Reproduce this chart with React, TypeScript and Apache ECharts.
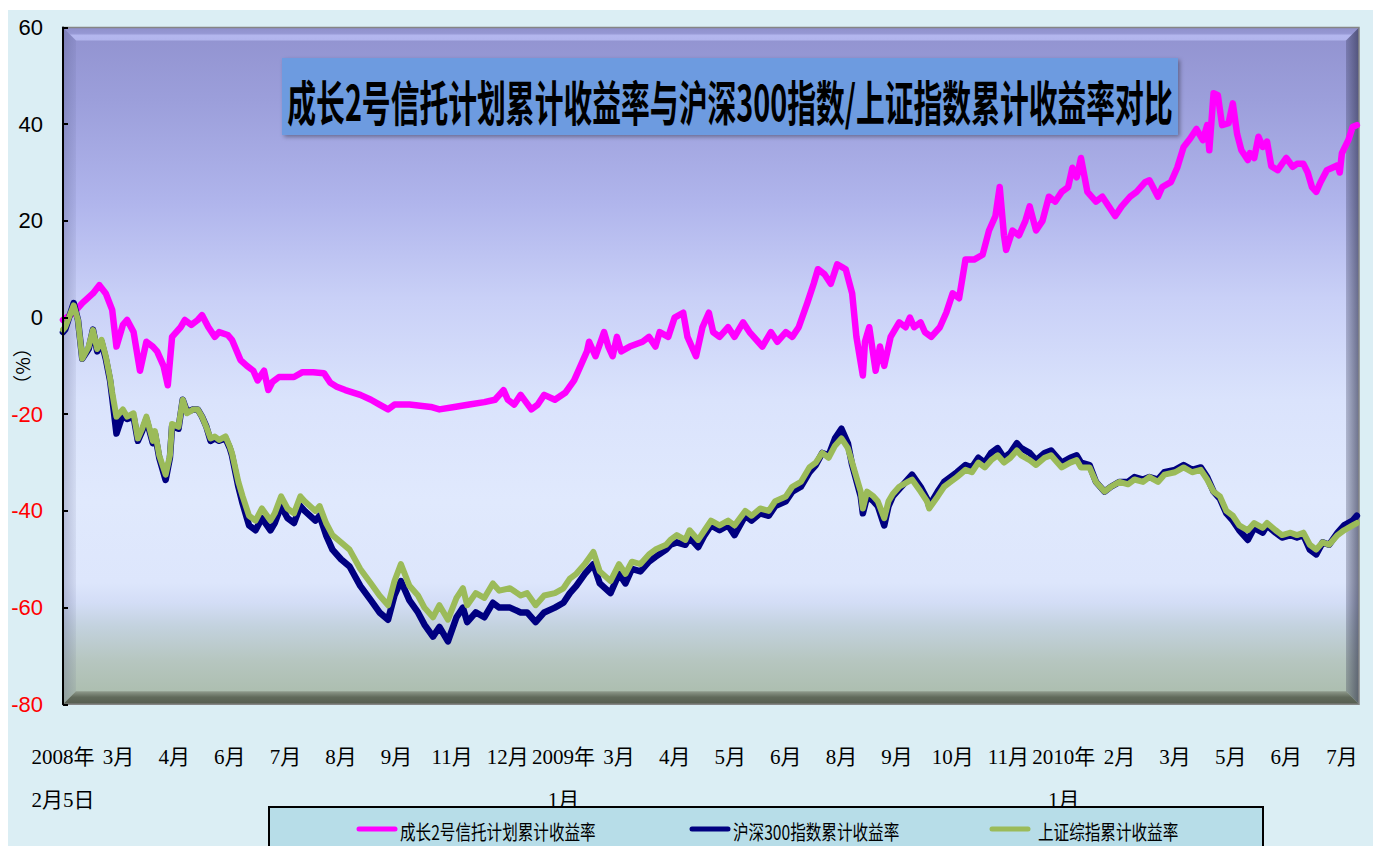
import React, { useEffect, useRef } from 'react';
import * as echarts from 'echarts';

// X axis: trading-day index since 2008-02-05; one label every 26 trading days
const tickLabels = ['2008年\n2月5日', '3月', '4月', '6月', '7月', '8月', '9月', '11月', '12月', '2009年\n1月', '3月', '4月', '5月', '6月', '8月', '9月', '10月', '11月', '2010年\n1月', '2月', '3月', '5月', '6月', '7月'];
const dayStep = 26;
const lastDay = 606;

const seriesNames = ['成长2号信托计划累计收益率', '沪深300指数累计收益率', '上证综指累计收益率'];
const seriesColors = ['#ff00ff', '#000080', '#9bbb59'];

// 成长2号信托计划累计收益率 (%)
const pinkDays = [
  0, 5, 9, 14, 17, 20, 23, 25, 28, 30,
  33, 36, 39, 42, 44, 47, 49, 51, 55, 57,
  60, 63, 65, 68, 71, 73, 77, 79, 83, 86,
  89, 91, 94, 96, 98, 101, 108, 112, 117, 122,
  125, 128, 132, 139, 144, 148, 152, 155, 162, 172,
  176, 183, 190, 197, 202, 206, 208, 211, 214, 219,
  222, 225, 230, 235, 239, 242, 245, 246, 249, 253,
  255, 257, 259, 261, 265, 271, 274, 277, 279, 283,
  286, 290, 292, 296, 299, 302, 304, 307, 311, 314,
  318, 321, 325, 327, 331, 334, 338, 341, 344, 348,
  351, 353, 356, 359, 362, 366, 369, 371, 374, 375,
  377, 380, 382, 384, 387, 391, 394, 396, 398, 401,
  403, 406, 410, 413, 416, 419, 422, 426, 430, 433,
  436, 438, 440, 441, 444, 447, 450, 452, 455, 458,
  461, 464, 467, 470, 472, 474, 476, 479, 483, 486,
  489, 492, 495, 499, 502, 506, 508, 512, 514, 518,
  521, 524, 527, 530, 533, 535, 536, 538, 540, 542,
  545, 547, 549, 551, 554, 555, 557, 559, 561, 563,
  565, 568, 570, 572, 575, 577, 580, 582, 584, 586,
  588, 591, 593, 596, 597, 598, 601, 603, 605
];
const pinkValues = [
  -0.5, 1, 3, 5, 6.7, 5, 1.6, -6, -1.5, -0.5,
  -3, -11, -5, -6, -7, -10, -14, -4, -2, -0.5,
  -1.5, -0.5, 0.5, -2, -4, -3, -3.6, -4.6, -8.8, -10,
  -11, -13, -11, -15, -13.3, -12.3, -12.3, -11.3, -11.3, -11.5,
  -13.5, -14.3, -15, -16, -17, -18, -19, -18, -18, -18.5,
  -19, -18.5, -18, -17.5, -17, -15, -17, -18, -16, -19,
  -18, -16, -17, -15.5, -13, -10, -7, -5, -8, -3,
  -6, -8, -4, -7, -6, -5, -4, -6, -3, -4,
  0, 1, -4, -8, -2, 1, -3, -4, -2, -4,
  -1, -3, -5, -6, -3, -5, -3, -4, -2, 3,
  7, 10, 9, 7, 11, 10, 5, -4, -12, -5,
  -2, -11, -6, -10, -4, -1, -2, 0, -2, -1,
  -3, -4, -2, 1, 5, 4, 12, 12, 13, 18,
  21, 27, 17, 14, 18, 17, 20, 23, 18, 20,
  25, 24, 26, 27, 31, 29, 33, 26, 24, 25,
  23, 21, 23, 25, 26, 28, 28.4, 25, 27, 28,
  31, 35.3, 37, 39, 36.7, 39.8, 34.6, 46.4, 46, 39.8,
  40.2, 44.3, 38, 34.6, 32.6, 34, 33, 37.4, 35.3, 36.4,
  31.3, 30.5, 31.8, 33, 31.2, 31.8, 31.8, 30, 27, 26,
  28, 30.5, 30.9, 31.5, 30, 34, 36.7, 39.4, 39.8
];

// index sample days (shared by the two index series)
const indexDays = [
  0, 1, 5, 7, 9, 12, 14, 16, 18, 20,
  22, 23, 25, 28, 30, 33, 35, 37, 39, 42,
  43, 45, 48, 50, 51, 54, 56, 58, 61, 63,
  65, 67, 69, 71, 73, 76, 78, 79, 82, 84,
  87, 90, 93, 97, 99, 102, 105, 108, 111, 113,
  118, 120, 123, 126, 130, 134, 139, 144, 148, 152,
  155, 158, 162, 166, 169, 173, 176, 180, 184, 187,
  189, 193, 197, 201, 204, 209, 214, 217, 221, 225,
  230, 234, 237, 240, 244, 248, 251, 256, 260, 263,
  266, 270, 274, 277, 282, 284, 287, 291, 293, 297,
  300, 303, 307, 311, 314, 319, 322, 326, 330, 333,
  338, 341, 345, 349, 352, 355, 358, 361, 364, 367,
  369, 373, 374, 376, 379, 381, 384, 386, 388, 391,
  395, 397, 401, 404, 405, 409, 412, 415, 418, 422,
  425, 428, 431, 434, 437, 440, 443, 446, 448, 452,
  455, 459, 462, 464, 467, 471, 474, 476, 480, 483,
  487, 490, 494, 498, 501, 505, 508, 512, 515, 520,
  524, 528, 532, 535, 538, 541, 544, 547, 550, 554,
  557, 561, 563, 567, 570, 574, 577, 580, 583, 586,
  589, 592, 596, 599, 603, 605
];

// 沪深300指数累计收益率 (%)
const hs300Values = [
  -3, -2.5, 3, -0.5, -8.5, -6.5, -2.5, -7, -5, -8.5,
  -13, -16.5, -24, -20, -21, -20.5, -25.5, -23.5, -21, -26,
  -24, -29, -33.6, -29, -22.5, -23, -17, -19.5, -19, -19,
  -20.5, -22.5, -25.5, -25, -25.5, -25, -27, -28.5, -35, -38.5,
  -43, -44, -41.5, -44, -42.5, -39, -41.5, -42.5, -39, -40,
  -42, -41, -45, -48, -50, -51.5, -55.5, -58.5, -61, -62.5,
  -57.5, -54.5, -58.5, -61, -63.5, -66, -64, -67, -62, -60,
  -63, -61, -62, -59, -60, -60, -61, -61, -63, -61,
  -60, -59, -57, -55.5, -53, -51, -55, -57, -53, -55,
  -52, -52.5, -50.5, -49.5, -48, -47, -46.5, -47, -45.5, -47.5,
  -45, -43, -44, -43, -45, -41, -42, -40.5, -41, -39,
  -38, -36, -35, -32, -30.5, -28, -28.5, -25, -23, -26,
  -30.5, -37, -40.5, -37, -38, -39, -43, -39, -37, -35.5,
  -33.5, -32.5, -35, -37.5, -39, -36, -34, -33, -32, -30.5,
  -31, -29, -30, -28, -27, -29, -28, -26, -27, -28,
  -29.5, -28, -27.5, -28.5, -30, -29, -28.5, -30, -30.5, -34,
  -36, -35, -34, -34, -33, -33.5, -33, -33.5, -32, -31.5,
  -30.5, -31.5, -31, -33, -36, -37.5, -40.5, -42, -44, -46,
  -43.5, -44.5, -43, -44.5, -45.5, -45, -45.5, -45, -48, -49,
  -46.5, -47, -44.5, -43, -42, -41
];

// 上证综指累计收益率 (%)
const szValues = [
  -2.5, -2, 2.5, -0.5, -8.5, -6, -2.6, -6.5, -4.6, -8,
  -12.5, -15.5, -20.5, -19, -20.5, -19.8, -25, -23, -20.5, -25.5,
  -23.5, -28.5, -32.5, -28.5, -22, -22.6, -17, -19.8, -19, -19,
  -20.5, -22.6, -25, -24.6, -25.3, -24.6, -26.7, -28, -34, -37,
  -41, -42, -39.5, -42, -40.5, -37, -39.5, -40.5, -37, -38,
  -40, -39, -42.5, -45, -46.5, -48, -52, -55, -57.5, -59.5,
  -54.5, -51, -55.5, -57.5, -60, -62, -59.5, -62.5, -58, -56,
  -59.5, -57, -58, -55, -56.5, -56, -57.5, -57, -59.5, -57.5,
  -57, -56, -54, -53, -51, -48.5, -52.5, -54.5, -51, -53,
  -50.5, -51, -49, -48, -47, -46, -45, -46, -44, -46,
  -44, -42, -43, -42, -43, -40, -41, -39.5, -40, -38,
  -37, -35, -34, -31, -30, -28, -29, -26.5, -25, -27,
  -30, -36, -39.5, -36, -37, -38, -41.5, -38, -36.5, -35,
  -34, -33.5, -36, -38, -39.5, -37, -35, -34, -33, -31.5,
  -32, -30, -31, -29.5, -28.5, -30, -29, -27.5, -28.5, -29.5,
  -30.5, -29, -28.5, -29.5, -31, -30, -29.5, -31, -31, -34,
  -36, -35, -34, -34.5, -33.5, -34, -33, -34, -32.5, -32,
  -31, -32, -31.5, -33.5, -36, -37, -40, -41, -43, -44,
  -42.5, -43.5, -42.5, -44, -45, -44.5, -45, -44.5, -47, -48,
  -46.5, -47, -45, -44, -43, -42.5
];

const yTicks = { min: -80, max: 60, interval: 20 };

function pairs(days: number[], vals: number[]) {
  const n = Math.min(days.length, vals.length);
  const out: number[][] = [];
  for (let i = 0; i < n; i++) out.push([days[i], vals[i]]);
  return out;
}

// layout (chart-local pixels)
const G = { left: 55, top: 17.5, right: 14, bottom: 141.7 };
const CW = 1365;
const CH = 836;

export default function App() {
  const ref = useRef<HTMLDivElement>(null);
  useEffect(() => {
    const chart = echarts.init(ref.current as HTMLDivElement, null, { renderer: 'svg' });
    const x0 = G.left;
    const y0 = G.top;
    const W = CW - G.left - G.right;
    const H = CH - G.top - G.bottom;
    const b = 13;
    const LG = echarts.graphic.LinearGradient;

    const cjk = "'Noto Sans CJK SC', sans-serif";
    const legendY = 821;
    const legendItems = [
      { x: 351, tx: 392 },
      { x: 684, tx: 725 },
      { x: 984, tx: 1030 }
    ];

    const graphics: any[] = [
      {
        type: 'rect', z: 0, silent: true,
        shape: { x: x0, y: y0, width: W, height: H },
        style: {
          fill: new LG(0, 0, 0, 1, [
            { offset: 0, color: '#9192cf' },
            { offset: 0.11, color: '#9c9fdb' },
            { offset: 0.26, color: '#b0b5ec' },
            { offset: 0.4, color: '#c9d0f7' },
            { offset: 0.55, color: '#dae3fc' },
            { offset: 0.7, color: '#e0e9fd' },
            { offset: 0.82, color: '#dde6fc' },
            { offset: 0.85, color: '#d3ddf6' },
            { offset: 0.885, color: '#c3d2de' },
            { offset: 0.935, color: '#b6c6c0' },
            { offset: 1, color: '#a9bba9' }
          ])
        }
      },
      {
        type: 'polygon', z: 1, silent: true,
        shape: { points: [[x0, y0], [x0 + W, y0], [x0 + W - b, y0 + b], [x0 + b, y0 + b]] },
        style: {
          fill: new LG(0, 0, 0, 1, [
            { offset: 0, color: '#8f90cb' },
            { offset: 0.45, color: '#9597d3' },
            { offset: 0.62, color: '#b4b7ef' },
            { offset: 1, color: '#b1b4ec' }
          ])
        }
      },
      {
        type: 'polygon', z: 1, silent: true,
        shape: { points: [[x0, y0], [x0 + b, y0 + b], [x0 + b, y0 + H - b], [x0, y0 + H]] },
        style: {
          fill: new LG(0, 0, 1, 0, [
            { offset: 0, color: 'rgba(70,75,120,0.28)' },
            { offset: 1, color: 'rgba(70,75,120,0.08)' }
          ])
        }
      },
      {
        type: 'polygon', z: 1, silent: true,
        shape: { points: [[x0 + W, y0], [x0 + W, y0 + H], [x0 + W - b, y0 + H - b], [x0 + W - b, y0 + b]] },
        style: {
          fill: new LG(0, 0, 1, 0, [
            { offset: 0, color: 'rgba(40,42,70,0.25)' },
            { offset: 1, color: 'rgba(40,42,70,0.62)' }
          ])
        }
      },
      {
        type: 'polygon', z: 1, silent: true,
        shape: { points: [[x0, y0 + H], [x0 + W, y0 + H], [x0 + W - b, y0 + H - b], [x0 + b, y0 + H - b]] },
        style: {
          fill: new LG(0, 0, 0, 1, [
            { offset: 0, color: '#8f9a8c' },
            { offset: 0.45, color: '#616a5b' },
            { offset: 1, color: '#555c4f' }
          ])
        }
      },
      {
        type: 'rect', z: 1, silent: true,
        shape: { x: x0, y: y0, width: W, height: H },
        style: { fill: 'none', stroke: '#858585', lineWidth: 1.5 }
      },
      // title box
      {
        type: 'rect', z: 10, silent: true,
        shape: { x: 274, y: 48, width: 896, height: 77 },
        style: {
          fill: '#6d9be0',
          shadowBlur: 4, shadowOffsetX: 2, shadowOffsetY: 2, shadowColor: 'rgba(0,0,0,0.35)'
        }
      },
      {
        type: 'text', z: 11, silent: true,
        x: 722, y: 90, scaleX: 0.6,
        style: {
          x: 0, y: 0,
          text: '成长2号信托计划累计收益率与沪深300指数/上证指数累计收益率对比',
          fontSize: 48, fontWeight: 'bold', fontFamily: cjk, fill: '#000',
          textAlign: 'center', textVerticalAlign: 'middle'
        }
      },
      // legend box
      {
        type: 'rect', z: 10, silent: true,
        shape: { x: 261, y: 797, width: 994, height: 70 },
        style: { fill: '#b7dde8', stroke: '#000', lineWidth: 2 }
      }
    ];
    legendItems.forEach((it, i) => {
      graphics.push({
        type: 'line', z: 11, silent: true,
        shape: { x1: it.x, y1: 819, x2: it.x + 36, y2: 819 },
        style: { stroke: seriesColors[i], lineWidth: 5, lineCap: 'round' }
      });
      graphics.push({
        type: 'text', z: 11, silent: true,
        x: it.tx, y: legendY, scaleX: 0.78,
        style: {
          x: 0, y: 0, text: seriesNames[i], fontSize: 20, fontFamily: cjk, fill: '#000',
          textAlign: 'left', textVerticalAlign: 'middle'
        }
      });
    });

    const option: any = {
      animation: false,
      backgroundColor: '#dbeef4',
      grid: {
        left: G.left, top: G.top, right: G.right, bottom: G.bottom,
        containLabel: false, outerBoundsMode: 'none'
      },
      xAxis: {
        type: 'value',
        min: 0,
        max: lastDay,
        interval: dayStep,
        axisLine: { show: false },
        axisTick: { show: false },
        splitLine: { show: false },
        axisLabel: {
          margin: 31,
          fontSize: 21,
          lineHeight: 43,
          color: '#000',
          verticalAlign: 'top',
          fontFamily: "'Liberation Serif', 'Noto Sans CJK SC', serif",
          showMaxLabel: false,
          hideOverlap: false,
          formatter: (v: number) => {
            const k = Math.round(v / dayStep);
            if (Math.abs(k * dayStep - v) > 0.01) return '';
            return tickLabels[k] ?? '';
          }
        }
      },
      yAxis: {
        type: 'value',
        min: yTicks.min,
        max: yTicks.max,
        interval: yTicks.interval,
        z: 5,
        name: '（%）',
        nameLocation: 'middle',
        nameGap: 32,
        nameRotate: 90,
        nameMoveOverlap: false,
        nameTextStyle: { fontSize: 19, color: '#000', fontFamily: cjk },
        axisLine: { show: true, lineStyle: { color: '#000', width: 2 } },
        axisTick: { show: true, inside: true, length: 5, lineStyle: { color: '#000', width: 2 } },
        splitLine: { show: false },
        axisLabel: {
          margin: 20,
          fontSize: 22,
          fontFamily: "'Liberation Sans Narrow', 'Liberation Sans', sans-serif",
          color: (v: any) => (Number(v) < 0 ? '#ff0000' : '#000000')
        }
      },
      graphic: { elements: graphics },
      series: [
        {
          name: seriesNames[0], type: 'line', z: 3, showSymbol: false, smooth: false,
          data: pairs(pinkDays, pinkValues),
          lineStyle: { color: seriesColors[0], width: 6.5, join: 'round', cap: 'round' },
          itemStyle: { color: seriesColors[0] }
        },
        {
          name: seriesNames[1], type: 'line', z: 3, showSymbol: false, smooth: false,
          data: pairs(indexDays, hs300Values),
          lineStyle: { color: seriesColors[1], width: 6.5, join: 'round', cap: 'round' },
          itemStyle: { color: seriesColors[1] }
        },
        {
          name: seriesNames[2], type: 'line', z: 3, showSymbol: false, smooth: false,
          data: pairs(indexDays, szValues),
          lineStyle: { color: seriesColors[2], width: 6, join: 'round', cap: 'round' },
          itemStyle: { color: seriesColors[2] }
        }
      ]
    };
    chart.setOption(option);
    return () => chart.dispose();
  }, []);
  return <div ref={ref} style={{ position: 'fixed', left: 8, top: 10, width: CW, height: CH }} />;
}
